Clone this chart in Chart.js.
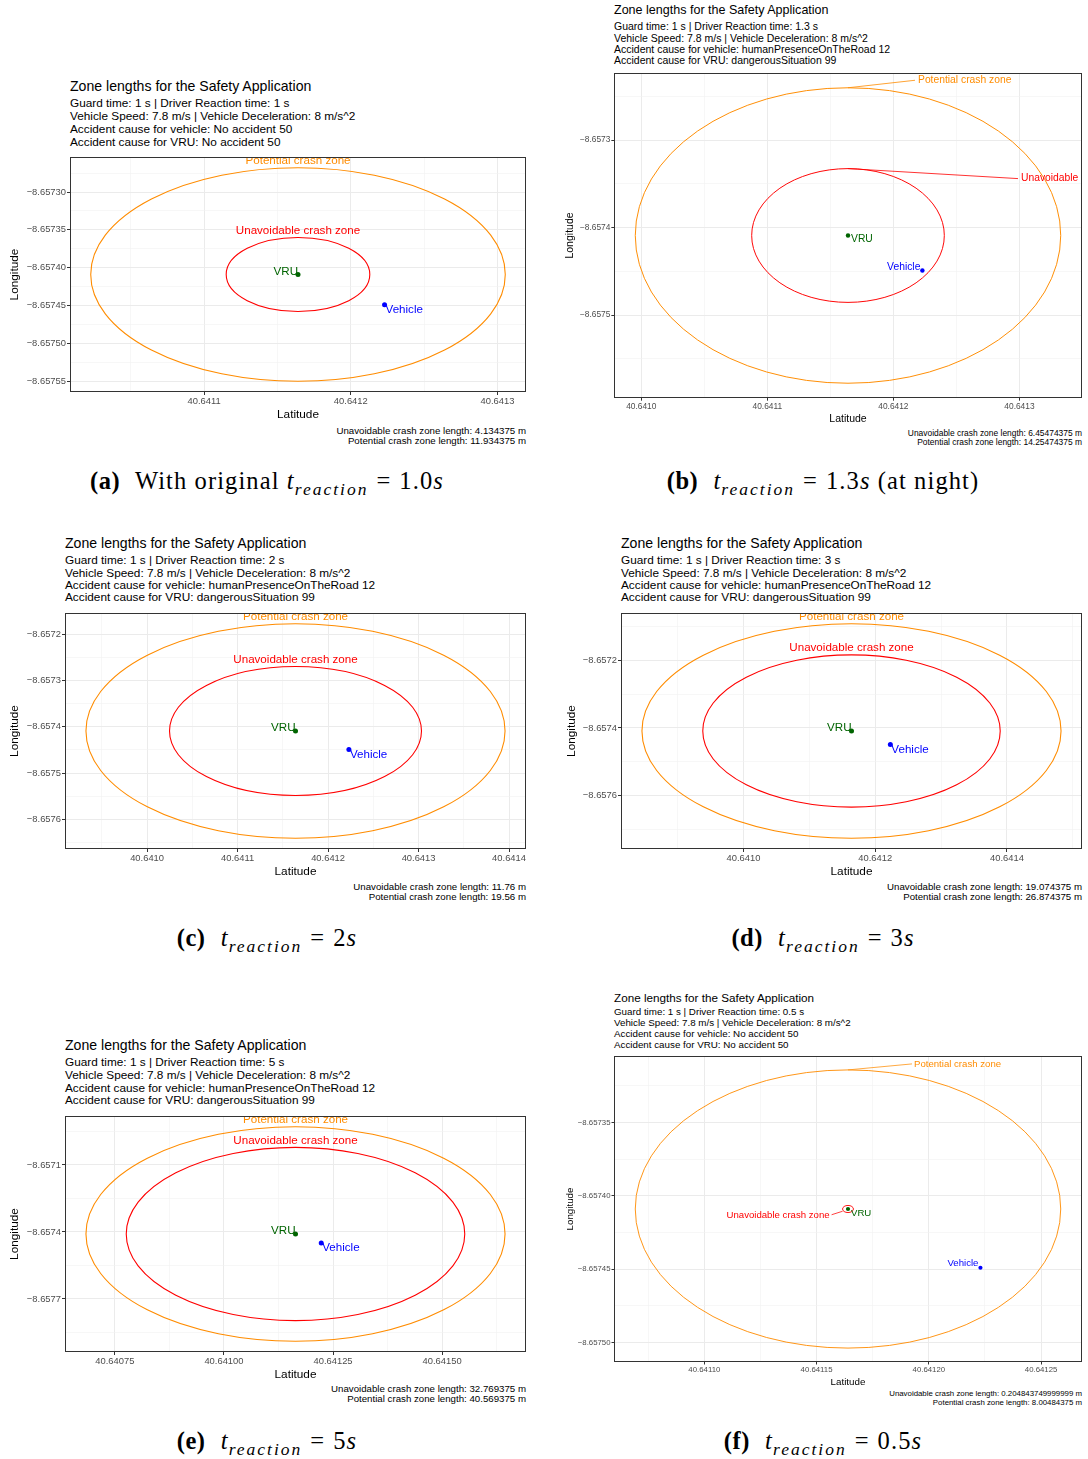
<!DOCTYPE html>
<html>
<head>
<meta charset="utf-8">
<title>Zone lengths for the Safety Application</title>
<script src="https://cdn.jsdelivr.net/npm/chart.js@4.4.1/dist/chart.umd.min.js"></script>
<style>
  html, body { margin: 0; padding: 0; background: #fff; }
  body { position: relative; width: 1088px; height: 1459px; overflow: hidden;
         font-family: "Liberation Sans", Arial, Helvetica, sans-serif; color: #000; }
  .line { position: absolute; white-space: nowrap; line-height: 1; transform: translateY(-50%); }
  .note { position: absolute; white-space: nowrap; line-height: 1; transform: translate(-100%, -50%); }
  canvas { position: absolute; }
  .cap { position: absolute; white-space: nowrap; line-height: 1; transform: translate(-50%, -50%);
         font-family: "Liberation Serif", "DejaVu Serif", serif; font-size: 24.5px; letter-spacing: 1.1px; }
  .cap b { font-weight: bold; margin-right: 8px; letter-spacing: 0.5px; }
  .cap i { font-style: italic; }
  .cap sub { font-size: 17.5px; font-style: italic; vertical-align: -6px; line-height: 0; letter-spacing: 2px; }
  .cap .eq { margin: 0 8px; }
</style>
</head>
<body>
<script>
// ---------------------------------------------------------------------------
// Scenario values (one entry per sub-figure a..f)
// ---------------------------------------------------------------------------
const panelLetters = ['a', 'b', 'c', 'd', 'e', 'f'];
const guardTimes = [1, 1, 1, 1, 1, 1];
const reactionTimes = ['1', '1.3', '2', '3', '5', '0.5'];
const vehicleSpeeds = [7.8, 7.8, 7.8, 7.8, 7.8, 7.8];
const decelerations = [8, 8, 8, 8, 8, 8];
const vehicleCauses = ['No accident 50', 'humanPresenceOnTheRoad 12', 'humanPresenceOnTheRoad 12',
                       'humanPresenceOnTheRoad 12', 'humanPresenceOnTheRoad 12', 'No accident 50'];
const vruCauses = ['No accident 50', 'dangerousSituation 99', 'dangerousSituation 99',
                   'dangerousSituation 99', 'dangerousSituation 99', 'No accident 50'];
const unavoidableLengths = [4.134375, 6.45474375, 11.76, 19.074375, 32.769375, 0.204843749999999];
const potentialLengths = [11.934375, 14.25474375, 19.56, 26.874375, 40.569375, 8.00484375];

// Positions (the x axis is titled "Latitude", the y axis "Longitude")
const vruPosition = [40.641164, -8.657409];
const vehiclePosition = [40.641223, -8.657449];

// Tick labels per sub-figure
const xTickLabels = [
  ['40.6411', '40.6412', '40.6413'],
  ['40.6410', '40.6411', '40.6412', '40.6413'],
  ['40.6410', '40.6411', '40.6412', '40.6413', '40.6414'],
  ['40.6410', '40.6412', '40.6414'],
  ['40.64075', '40.64100', '40.64125', '40.64150'],
  ['40.64110', '40.64115', '40.64120', '40.64125']
];
const yTickLabels = [
  ['\u22128.65730', '\u22128.65735', '\u22128.65740', '\u22128.65745', '\u22128.65750', '\u22128.65755'],
  ['\u22128.6573', '\u22128.6574', '\u22128.6575'],
  ['\u22128.6572', '\u22128.6573', '\u22128.6574', '\u22128.6575', '\u22128.6576'],
  ['\u22128.6572', '\u22128.6574', '\u22128.6576'],
  ['\u22128.6571', '\u22128.6574', '\u22128.6577'],
  ['\u22128.65735', '\u22128.65740', '\u22128.65745', '\u22128.65750']
];

// Sub-figure captions
const captionValues = ['1.0', '1.3', '2', '3', '5', '0.5'];
const captionPrefixes = ['With original ', '', '', '', '', ''];
const captionSuffixes = ['', ' (at night)', '', '', '', ''];

// metres per degree of longitude at the site latitude (zone radii are in metres)
const metersPerDegree = 111320 * Math.cos(vruPosition[0] * Math.PI / 180);

// ---------------------------------------------------------------------------
// Page layout of each sub-figure (pixels)
// ---------------------------------------------------------------------------
const frames = [
  { L: 70,  T: 155,  R: 526,  B: 392,  s: 1,    ns: 1,    titleY: 86,  subY: [104, 117, 130, 143],   yTitleX: 15,  xTitleDY: 22.5, noteY: [431, 441],   capX: 267, capY: 481 },
  { L: 614, T: 71,   R: 1082, B: 398,  s: 0.89, ns: 0.87, titleY: 10,  subY: [26, 38, 49, 60],       yTitleX: 570, xTitleDY: 21,   noteY: [433, 442],   capX: 823, capY: 481 },
  { L: 65,  T: 611,  R: 526,  B: 849,  s: 1,    ns: 1,    titleY: 543, subY: [561, 574, 586, 598],   yTitleX: 15,  xTitleDY: 22.5, noteY: [887, 897],   capX: 267, capY: 938 },
  { L: 621, T: 611,  R: 1082, B: 849,  s: 1,    ns: 1,    titleY: 543, subY: [561, 574, 586, 598],   yTitleX: 572, xTitleDY: 22.5, noteY: [887, 897],   capX: 823, capY: 938 },
  { L: 65,  T: 1114, R: 526,  B: 1352, s: 1,    ns: 1,    titleY: 1045, subY: [1063, 1076, 1089, 1101], yTitleX: 15, xTitleDY: 22.5, noteY: [1389, 1399], capX: 267, capY: 1441 },
  { L: 614, T: 1054, R: 1082, B: 1362, s: 0.83, ns: 0.81, titleY: 998, subY: [1012, 1023, 1034, 1045], yTitleX: 570, xTitleDY: 20, noteY: [1394, 1403], capX: 823, capY: 1441 }
];

// Label placement: 'top' puts zone names above each ring; others use leader lines
const topPlacement = {
  pot: { align: 'center', dx: 0, dy: -6.7 },
  una: { align: 'center', dx: 0, dy: -6.7 },
  vru: { align: 'right', dx: 0, dy: -3 },
  veh: { align: 'left', dx: 1, dy: 5 }
};
const placements = [
  topPlacement,
  {
    pot: { align: 'left', dx: 70, dy: -7.5, seg: [[0, 0], [67, -7.5]] },
    una: { align: 'left', dx: 173, dy: 10, seg: [[0, 0], [170, 10]] },
    vru: { align: 'left', dx: 3, dy: 4 },
    veh: { align: 'right', dx: -2, dy: -3 }
  },
  topPlacement,
  topPlacement,
  topPlacement,
  {
    pot: { align: 'left', dx: 66, dy: -6, seg: [[0, 0], [64, -6]] },
    una: { align: 'right', dx: -18.4, dy: 10.3, seg: [[-16.4, 9.3], [-5.4, 5.8]] },
    vru: { align: 'left', dx: 3, dy: 4.5 },
    veh: { align: 'right', dx: -2, dy: -4 }
  }
];

const FONT = '"Liberation Sans", Arial, Helvetica, sans-serif';
Chart.defaults.font.family = FONT;

const ORANGE = '#FF8C00', RED = '#FF0000', GREEN = '#006400', BLUE = '#0000FF';

function labelValue(label) { return parseFloat(label.replace('\u2212', '-')); }

// Major ticks from the label lists, minor ticks half-way between (and beyond) them
function buildTicks(labels, min, max) {
  const vals = labels.map(labelValue);
  const step = vals[1] - vals[0];
  const ticks = vals.map((v, i) => ({ value: v, text: labels[i], minor: false }));
  for (let k = -1; k < vals.length; k++) {
    const v = vals[0] + (k + 0.5) * step;
    if (v > min && v < max) ticks.push({ value: v, text: '', minor: true });
  }
  return ticks.sort((p, q) => p.value - q.value);
}

function addDiv(cls, x, y, text, size) {
  const d = document.createElement('div');
  d.className = cls;
  d.style.left = x + 'px';
  d.style.top = y + 'px';
  d.style.fontSize = size + 'px';
  d.textContent = text;
  document.body.appendChild(d);
  return d;
}

function makeZonePlugin(rings, place, s) {
  const labelSize = 11.6 * s;
  function ringGeom(chart, r) {
    const { x, y } = chart.scales;
    const cx = x.getPixelForValue(vruPosition[0]);
    const cy = y.getPixelForValue(vruPosition[1]);
    const rx = Math.abs(x.getPixelForValue(vruPosition[0] + r) - cx);
    const ry = Math.abs(y.getPixelForValue(vruPosition[1] + r) - cy);
    return { cx, cy, rx, ry };
  }
  function clip(ctx, a) {
    ctx.beginPath();
    ctx.rect(a.left, a.top, a.right - a.left, a.bottom - a.top);
    ctx.clip();
  }
  return {
    id: 'zones',
    beforeDatasetsDraw(chart) {
      const { ctx, chartArea: a } = chart;
      ctx.save();
      clip(ctx, a);
      rings.forEach(z => {
        const g = ringGeom(chart, z.r);
        ctx.beginPath();
        ctx.ellipse(g.cx, g.cy, g.rx, g.ry, 0, 0, 2 * Math.PI);
        ctx.lineWidth = 1.1 * s;
        ctx.strokeStyle = z.color;
        ctx.stroke();
      });
      ctx.restore();
    },
    afterDatasetsDraw(chart) {
      const { ctx, chartArea: a } = chart;
      ctx.save();
      clip(ctx, a);
      ctx.font = labelSize + 'px ' + FONT;
      ctx.textBaseline = 'middle';
      rings.forEach(z => {
        const g = ringGeom(chart, z.r);
        const ax = g.cx, ay = g.cy - g.ry;
        const p = place[z.key];
        if (p.seg) {
          ctx.beginPath();
          ctx.moveTo(ax + p.seg[0][0], ay + p.seg[0][1]);
          ctx.lineTo(ax + p.seg[1][0], ay + p.seg[1][1]);
          ctx.lineWidth = 0.9 * s;
          ctx.strokeStyle = z.color;
          ctx.stroke();
        }
        ctx.fillStyle = z.color;
        ctx.textAlign = p.align;
        ctx.fillText(z.text, ax + p.dx, ay + p.dy);
      });
      chart.data.datasets.forEach((ds, di) => {
        const p = place[ds.placeKey];
        chart.getDatasetMeta(di).data.forEach(el => {
          ctx.fillStyle = ds.textColor;
          ctx.textAlign = p.align;
          ctx.fillText(ds.label, el.x + p.dx, el.y + p.dy);
        });
      });
      ctx.restore();
      // panel border
      ctx.save();
      ctx.lineWidth = 1;
      ctx.strokeStyle = '#333333';
      ctx.strokeRect(a.left + 0.5, a.top + 0.5, a.right - a.left - 1, a.bottom - a.top - 1);
      ctx.restore();
    }
  };
}

panelLetters.forEach((letter, i) => {
  const f = frames[i], s = f.s;
  const base = 11.8 * s;

  // Header block
  addDiv('line', f.L, f.titleY, 'Zone lengths for the Safety Application', 14.1 * s);
  const subs = [
    `Guard time: ${guardTimes[i]} s | Driver Reaction time: ${reactionTimes[i]} s`,
    `Vehicle Speed: ${vehicleSpeeds[i]} m/s | Vehicle Deceleration: ${decelerations[i]} m/s^2`,
    `Accident cause for vehicle: ${vehicleCauses[i]}`,
    `Accident cause for VRU: ${vruCauses[i]}`
  ];
  subs.forEach((t, k) => addDiv('line', f.L, f.subY[k], t, base));

  // Zone length notes under the panel
  addDiv('note', f.R, f.noteY[0], `Unavoidable crash zone length: ${unavoidableLengths[i]} m`, 9.7 * f.ns);
  addDiv('note', f.R, f.noteY[1], `Potential crash zone length: ${potentialLengths[i]} m`, 9.7 * f.ns);

  // Sub-figure caption
  const cap = document.createElement('div');
  cap.className = 'cap';
  cap.style.left = f.capX + 'px';
  cap.style.top = f.capY + 'px';
  cap.innerHTML = `<b>(${letter})</b> ${captionPrefixes[i]}<i>t</i><sub>reaction</sub><span class="eq">=</span>${captionValues[i]}<i>s</i>${captionSuffixes[i]}`;
  document.body.appendChild(cap);

  // Axis limits: outer ring plus 5 % of its span on each side
  const rUna = unavoidableLengths[i] / metersPerDegree;
  const rPot = potentialLengths[i] / metersPerDegree;
  const ext = rPot * 1.1;
  const xMin = vruPosition[0] - ext, xMax = vruPosition[0] + ext;
  const yMin = vruPosition[1] - ext, yMax = vruPosition[1] + ext;
  const xTicks = buildTicks(xTickLabels[i], xMin, xMax);
  const yTicks = buildTicks(yTickLabels[i], yMin, yMax);

  // Canvas geometry so that the chart area lands on the panel box
  const titleSize = base, lh = titleSize * 1.2;
  const cLeft = Math.round(f.yTitleX - lh / 2);
  const padTop = 2, padRight = 6;
  const cTop = f.T - padTop;
  const yW = f.L - cLeft;
  const xH = Math.round(f.xTitleDY + lh / 2);
  const W = f.R + padRight - cLeft, H = f.B + xH - cTop;

  const canvas = document.createElement('canvas');
  canvas.width = W; canvas.height = H;
  canvas.style.left = cLeft + 'px'; canvas.style.top = cTop + 'px';
  canvas.style.width = W + 'px'; canvas.style.height = H + 'px';
  document.body.appendChild(canvas);

  const gridColor = c => (c.tick && c.tick.minor) ? '#F2F2F2' : '#EBEBEB';
  const gridWidth = c => (c.tick && c.tick.minor) ? 0.6 : 1;
  const tickColor = c => (c.tick && c.tick.minor) ? 'rgba(0,0,0,0)' : '#333333';

  const rings = [
    { key: 'pot', r: rPot, color: ORANGE, text: 'Potential crash zone' },
    { key: 'una', r: rUna, color: RED, text: 'Unavoidable crash zone' }
  ];

  new Chart(canvas, {
    type: 'scatter',
    data: {
      datasets: [
        { label: 'VRU', data: [{ x: vruPosition[0], y: vruPosition[1] }], backgroundColor: GREEN,
          borderColor: GREEN, pointRadius: 2.5 * s, borderWidth: 0, textColor: GREEN, placeKey: 'vru' },
        { label: 'Vehicle', data: [{ x: vehiclePosition[0], y: vehiclePosition[1] }], backgroundColor: BLUE,
          borderColor: BLUE, pointRadius: 2.5 * s, borderWidth: 0, textColor: BLUE, placeKey: 'veh' }
      ]
    },
    options: {
      responsive: false,
      animation: false,
      events: [],
      devicePixelRatio: 1,
      layout: { padding: { left: 0, top: padTop, right: padRight, bottom: 0 } },
      plugins: { legend: { display: false }, tooltip: { enabled: false }, title: { display: false } },
      scales: {
        x: {
          type: 'linear', position: 'bottom', min: xMin, max: xMax, bounds: 'data',
          afterBuildTicks: sc => { sc.ticks = xTicks.map(t => ({ value: t.value, text: t.text, minor: t.minor })); },
          afterFit: sc => { sc.height = xH; sc.paddingLeft = 0; sc.paddingRight = 0; },
          ticks: { autoSkip: false, maxRotation: 0, minRotation: 0, padding: 1, color: '#4D4D4D',
                   font: { size: 9.4 * s }, callback: (v, k, arr) => arr[k].text },
          grid: { color: gridColor, lineWidth: gridWidth, tickColor: tickColor, tickLength: 3 * s, drawTicks: true },
          border: { display: false },
          title: { display: true, text: 'Latitude', color: '#000', font: { size: titleSize }, padding: 0 }
        },
        y: {
          type: 'linear', position: 'left', min: yMin, max: yMax, bounds: 'data',
          afterBuildTicks: sc => { sc.ticks = yTicks.map(t => ({ value: t.value, text: t.text, minor: t.minor })); },
          afterFit: sc => { sc.width = yW; sc.paddingTop = 0; sc.paddingBottom = 0; },
          ticks: { autoSkip: false, padding: 1, color: '#4D4D4D', font: { size: 9.4 * s },
                   callback: (v, k, arr) => arr[k].text },
          grid: { color: gridColor, lineWidth: gridWidth, tickColor: tickColor, tickLength: 3 * s, drawTicks: true },
          border: { display: false },
          title: { display: true, text: 'Longitude', color: '#000', font: { size: titleSize }, padding: 0 }
        }
      }
    },
    plugins: [makeZonePlugin(rings, placements[i], s)]
  });
});
</script>
</body>
</html>
